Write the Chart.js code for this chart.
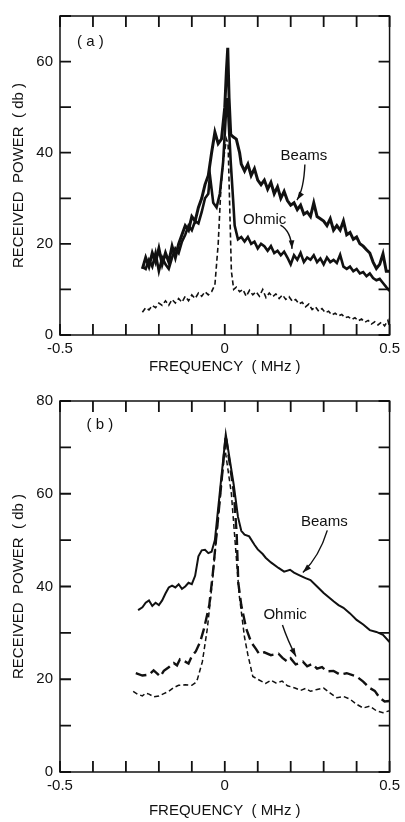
<!DOCTYPE html>
<html>
<head>
<meta charset="utf-8">
<script src="https://cdn.jsdelivr.net/npm/chart.js@4"></script>
<style>
  body { margin: 0; background: #fff; }
  #wrap { position: relative; width: 405px; height: 822px; }
  canvas { position: absolute; left: 0; }
</style>
</head>
<body>
<div id="wrap">
  <canvas id="chartA" width="405" height="380" style="top:0"></canvas>
  <canvas id="chartB" width="405" height="437" style="top:385px"></canvas>
</div>
<script>
// labelled ticks
const xLabels = [-0.5, 0, 0.5];
const yLabelsA = [0, 20, 40, 60];
const yLabelsB = [0, 20, 40, 60, 80];

// panel (a): Beams, solid
const aBeamsF = [-0.25,-0.24,-0.23,-0.22,-0.21,-0.20,-0.19,-0.18,-0.17,-0.16,-0.15,-0.14,-0.13,-0.12,-0.11,-0.10,-0.09,-0.08,-0.07,-0.06,-0.05,-0.04,-0.03,-0.02,-0.01,0,0.005,0.009,0.013,0.018,0.025,0.035,0.045,0.05,0.06,0.07,0.08,0.09,0.10,0.11,0.12,0.13,0.14,0.15,0.16,0.17,0.18,0.19,0.20,0.21,0.22,0.23,0.24,0.25,0.26,0.27,0.28,0.29,0.30,0.31,0.32,0.33,0.34,0.35,0.36,0.37,0.38,0.39,0.40,0.41,0.42,0.43,0.44,0.45,0.46,0.47,0.48,0.49,0.50];
const aBeamsP = [14.5,17,15,18,16,19,15.5,18,16,19.5,17,20,22,24,23,26,25,28,30,33,35,40,44.5,42,43,50,58,63,52,44,43.5,43,40,37.5,36,37.5,35,36.5,34,33,34,32,33.5,31,32.5,30,31.5,29.5,28.5,29,27.5,28.5,26.5,27,26,29,26,25.5,25,24,25.5,23,24,23,25,22,22.5,21,21.5,20,19.5,18.7,18,16,14.6,15.5,17.8,14,14];

// panel (a): Ohmic, solid
const aOhmicF = [-0.25,-0.24,-0.23,-0.22,-0.21,-0.20,-0.19,-0.18,-0.17,-0.16,-0.15,-0.14,-0.13,-0.12,-0.11,-0.10,-0.09,-0.08,-0.07,-0.06,-0.05,-0.045,-0.035,-0.025,-0.015,-0.005,0.003,0.008,0.013,0.018,0.025,0.03,0.04,0.05,0.06,0.07,0.08,0.09,0.10,0.11,0.12,0.13,0.14,0.15,0.16,0.17,0.18,0.19,0.20,0.21,0.22,0.23,0.24,0.25,0.26,0.27,0.28,0.29,0.30,0.31,0.32,0.33,0.34,0.35,0.36,0.37,0.38,0.39,0.40,0.41,0.42,0.43,0.44,0.45,0.46,0.47,0.48,0.49,0.50];
const aOhmicP = [15,14.5,16.5,15,18,14,17,15.5,14.5,17,19,18,20.5,22,24,23,25,24.5,27,30,31,35,29,28,31,38,48,52,45,38,30,24,21,21.5,20.5,21.5,20,20.5,19,20,19.5,18.5,19.5,18,18.5,17.5,18.3,17,15.5,17.5,16.5,18,16,17,16.5,17.5,16,16.8,15.5,17,16,16.5,15.8,17.6,15,14.5,15,14,14.5,13.5,13.8,12.9,13.5,12.5,12,12.3,11.4,10.5,9.7];

// panel (a): Ohmic, dashed
const aDashF = [-0.25,-0.24,-0.23,-0.22,-0.21,-0.20,-0.19,-0.18,-0.17,-0.16,-0.15,-0.14,-0.13,-0.12,-0.11,-0.10,-0.09,-0.08,-0.07,-0.06,-0.05,-0.04,-0.03,-0.02,-0.012,-0.005,0.005,0.01,0.015,0.02,0.027,0.035,0.045,0.055,0.065,0.075,0.085,0.095,0.105,0.115,0.125,0.135,0.145,0.155,0.165,0.175,0.185,0.195,0.205,0.215,0.225,0.235,0.245,0.255,0.265,0.275,0.285,0.295,0.305,0.315,0.325,0.335,0.345,0.355,0.365,0.375,0.385,0.395,0.405,0.415,0.425,0.435,0.445,0.455,0.465,0.475,0.485,0.495,0.50];
const aDashP = [5,6,5.5,6.5,6,7,6.5,7.5,6.5,7.8,7,8,7.2,8.5,7.5,8.8,8,9.2,8.5,9.5,8.8,9.5,11,20,32,38,43,42,28,14,10,10.5,9.5,10,8.5,9.8,8.8,9.5,8.5,10,8.2,9.2,8.4,9,8,8.8,7.8,8.4,7.4,7.8,6.8,7.2,6.2,6.8,5.6,6.2,5.2,5.8,4.9,5.2,4.4,4.8,4.2,4.5,3.8,4,3.4,3.8,3.1,3.5,2.8,3.2,2.4,2.9,2.2,2.8,2,3.2,1.7];

// panel (b): Beams, solid
const bBeamsF = [-0.263,-0.25,-0.24,-0.23,-0.22,-0.21,-0.20,-0.19,-0.18,-0.17,-0.16,-0.15,-0.14,-0.13,-0.12,-0.11,-0.10,-0.09,-0.08,-0.07,-0.06,-0.05,-0.04,-0.03,0.003,0.027,0.04,0.05,0.06,0.074,0.09,0.10,0.115,0.124,0.14,0.163,0.18,0.198,0.21,0.23,0.245,0.26,0.28,0.30,0.31,0.33,0.345,0.36,0.38,0.40,0.42,0.44,0.46,0.48,0.50];
const bBeamsP = [34.9,35.5,36.5,37,35.8,36.5,36,37,38.5,39.8,40.2,39.8,40.5,39.5,40,40.8,40.5,42.3,46.5,47.8,47.9,47.2,47.5,50,72.8,62,55,52,51.2,50.8,49,48,47,46.2,45.2,44,43.2,43.6,43,42.3,41.8,41.4,40,38.6,38,36.8,36,35.4,34.2,32.8,31.8,30.6,30.2,29.6,28];

// panel (b): Ohmic, long dashes
const bOhmicF = [-0.27,-0.25,-0.23,-0.216,-0.205,-0.196,-0.185,-0.17,-0.155,-0.145,-0.136,-0.12,-0.11,-0.10,-0.088,-0.075,-0.063,-0.047,-0.036,-0.02,0.003,0.02,0.027,0.036,0.041,0.05,0.065,0.08,0.095,0.104,0.12,0.14,0.163,0.175,0.19,0.20,0.215,0.237,0.25,0.265,0.28,0.295,0.31,0.33,0.35,0.37,0.40,0.42,0.44,0.455,0.47,0.485,0.50];
const bOhmicP = [21.3,20.8,21,21.9,21.2,20.6,21.8,22.6,23.5,23,24.3,23.8,23.4,25,26,28,30.9,36,43,55,72.5,64,60.6,51.5,40.8,36,30.9,28,26.5,25.5,25.8,25.2,25.5,24.6,23.8,24.5,23.2,23.8,22.8,23.3,22.3,22.6,21.7,21.8,21,21.3,20.6,19.5,18.1,17.5,16,15.2,15.3];

// panel (b): Ohmic, short dashes
const bDashF = [-0.278,-0.265,-0.25,-0.24,-0.23,-0.215,-0.20,-0.185,-0.17,-0.155,-0.14,-0.12,-0.10,-0.09,-0.083,-0.068,-0.053,-0.038,-0.02,0,0.02,0.044,0.06,0.07,0.085,0.10,0.124,0.14,0.155,0.174,0.19,0.213,0.23,0.245,0.26,0.28,0.30,0.32,0.34,0.36,0.38,0.40,0.42,0.44,0.46,0.48,0.50];
const bDashP = [17.4,16.8,16.4,17,16.8,16.2,16.4,16.9,17.4,18.2,18.7,18.8,18.7,19.2,20,23.8,30.9,40.8,55,70,60,38,29,25.3,20.6,20,19.1,19.8,19.2,19.6,18.6,18.1,17.6,18,17.4,17.8,18.1,17,16,16.3,15.7,14.6,13.8,14.2,13.2,12.8,13.2];

const fontFam = "'Liberation Sans', Arial, sans-serif";
const ink = '#111';

function puntos(fs, ps) {
  return fs.map((f, i) => ({ x: f, y: ps[i] }));
}

// frame with inward ticks on all four sides
const marcoPlugin = {
  id: 'marco',
  afterDraw(chart) {
    const ctx = chart.ctx;
    const a = chart.chartArea;
    const sx = chart.scales.x, sy = chart.scales.y;
    const len = 11;
    ctx.save();
    ctx.strokeStyle = ink;
    ctx.lineWidth = 1.5;
    ctx.strokeRect(a.left, a.top, a.right - a.left, a.bottom - a.top);
    ctx.lineWidth = 1.8;
    ctx.beginPath();
    sx.ticks.forEach(t => {
      const px = sx.getPixelForValue(t.value);
      ctx.moveTo(px, a.bottom); ctx.lineTo(px, a.bottom - len);
      ctx.moveTo(px, a.top); ctx.lineTo(px, a.top + len);
    });
    sy.ticks.forEach(t => {
      const py = sy.getPixelForValue(t.value);
      ctx.moveTo(a.left, py); ctx.lineTo(a.left + len, py);
      ctx.moveTo(a.right, py); ctx.lineTo(a.right - len, py);
    });
    ctx.stroke();
    ctx.restore();
  }
};

// panel letters, curve names and arrows
const notasPlugin = {
  id: 'notas',
  afterDatasetsDraw(chart, args, opts) {
    const ctx = chart.ctx;
    const sx = chart.scales.x, sy = chart.scales.y;
    const X = v => sx.getPixelForValue(v), Y = v => sy.getPixelForValue(v);
    ctx.save();
    ctx.fillStyle = ink;
    ctx.strokeStyle = ink;
    ctx.font = '15px ' + fontFam;
    ctx.textAlign = 'center';
    ctx.textBaseline = 'middle';
    (opts.textos || []).forEach(t => ctx.fillText(t.text, X(t.x), Y(t.y)));
    ctx.lineWidth = 1.4;
    (opts.flechas || []).forEach(f => {
      const x0 = X(f.from[0]), y0 = Y(f.from[1]);
      const xc = X(f.ctrl[0]), yc = Y(f.ctrl[1]);
      const x1 = X(f.to[0]), y1 = Y(f.to[1]);
      ctx.beginPath();
      ctx.moveTo(x0, y0);
      ctx.quadraticCurveTo(xc, yc, x1, y1);
      ctx.stroke();
      const ang = Math.atan2(y1 - yc, x1 - xc);
      ctx.beginPath();
      ctx.moveTo(x1, y1);
      ctx.lineTo(x1 - 9 * Math.cos(ang - 0.32), y1 - 9 * Math.sin(ang - 0.32));
      ctx.lineTo(x1 - 9 * Math.cos(ang + 0.32), y1 - 9 * Math.sin(ang + 0.32));
      ctx.closePath();
      ctx.fill();
    });
    ctx.restore();
  }
};

function serie(data, width, dash) {
  return {
    data: data,
    borderColor: ink,
    borderWidth: width,
    borderDash: dash,
    pointRadius: 0,
    tension: 0,
    fill: false
  };
}

function opciones(yMax, yLabels, xTitlePad, notas) {
  return {
    responsive: false,
    animation: false,
    layout: { padding: { top: notas.top, right: 7, left: 0, bottom: 0 } },
    plugins: { legend: { display: false }, tooltip: { enabled: false }, notas: notas },
    scales: {
      x: {
        type: 'linear',
        min: -0.5,
        max: 0.5,
        afterFit: s => { s.height = notas.xh; },
        grid: { display: false, drawTicks: false },
        border: { display: false },
        ticks: {
          stepSize: 0.1,
          padding: 5,
          maxRotation: 0,
          autoSkip: false,
          color: ink,
          font: { family: fontFam, size: 15 },
          callback: v => {
            const hit = xLabels.find(l => Math.abs(l - v) < 1e-6);
            return hit === undefined ? '' : String(hit);
          }
        },
        title: {
          display: true,
          text: 'FREQUENCY  ( MHz )',
          color: ink,
          font: { family: fontFam, size: 15 },
          padding: { top: 0, bottom: xTitlePad }
        }
      },
      y: {
        min: 0,
        max: yMax,
        afterFit: s => { s.width = 60; },
        grid: { display: false, drawTicks: false },
        border: { display: false },
        ticks: {
          stepSize: 10,
          padding: 7,
          color: ink,
          font: { family: fontFam, size: 15 },
          callback: v => yLabels.includes(v) ? String(v) : ''
        },
        title: {
          display: true,
          text: 'RECEIVED  POWER  ( db )',
          color: ink,
          font: { family: fontFam, size: 15 },
          padding: { top: 10, bottom: 0 }
        }
      }
    }
  };
}

new Chart(document.getElementById('chartA'), {
  type: 'line',
  data: {
    datasets: [
      serie(puntos(aBeamsF, aBeamsP), 3, []),
      serie(puntos(aOhmicF, aOhmicP), 2.6, []),
      serie(puntos(aDashF, aDashP), 1.6, [5, 3])
    ]
  },
  options: opciones(70, yLabelsA, 4, {
    top: 7,
    xh: 45,
    textos: [
      { text: '( a )', x: -0.408, y: 64.4 },
      { text: 'Beams', x: 0.24, y: 39.3 },
      { text: 'Ohmic', x: 0.121, y: 25.3 }
    ],
    flechas: [
      { from: [0.243, 37.4], ctrl: [0.24, 32], to: [0.219, 29.6] },
      { from: [0.169, 24.1], ctrl: [0.201, 22.8], to: [0.204, 18.9] }
    ]
  }),
  plugins: [marcoPlugin, notasPlugin]
});

new Chart(document.getElementById('chartB'), {
  type: 'line',
  data: {
    datasets: [
      serie(puntos(bBeamsF, bBeamsP), 2, []),
      serie(puntos(bOhmicF, bOhmicP), 2.4, [11, 5]),
      serie(puntos(bDashF, bDashP), 1.5, [5, 3])
    ]
  },
  options: opciones(80, yLabelsB, 2, {
    top: 10,
    xh: 50,
    textos: [
      { text: '( b )', x: -0.379, y: 74.9 },
      { text: 'Beams', x: 0.302, y: 54 },
      { text: 'Ohmic', x: 0.183, y: 33.8 }
    ],
    flechas: [
      { from: [0.311, 52.1], ctrl: [0.287, 46.5], to: [0.237, 43] },
      { from: [0.175, 31.7], ctrl: [0.19, 28.5], to: [0.216, 24.9] }
    ]
  }),
  plugins: [marcoPlugin, notasPlugin]
});
</script>
</body>
</html>
